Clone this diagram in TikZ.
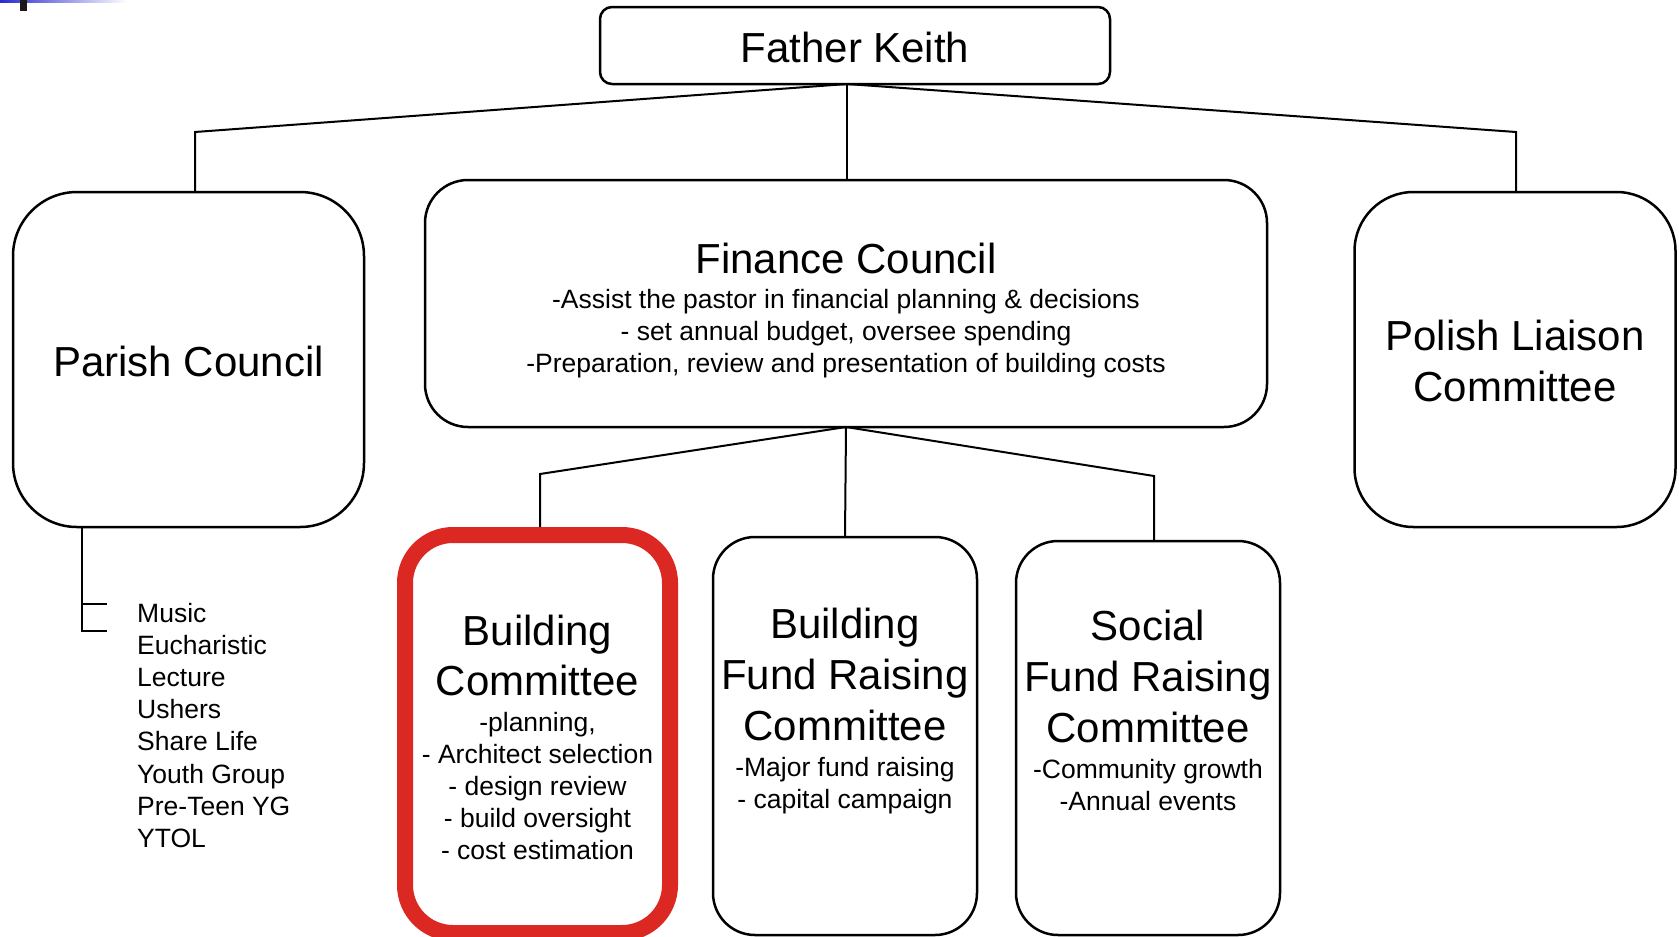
\documentclass[tikz,border=0pt]{standalone}
\usepackage{fontspec}
\setmainfont{Liberation Sans}
\definecolor{hired}{HTML}{DC2823}
\definecolor{topblue}{HTML}{2A2AD0}
\begin{document}
\begin{tikzpicture}[x=1pt,y=-1pt,
  box/.style={draw=black, line width=2.5pt, inner sep=0pt, outer sep=0pt},
  big/.style={font=\fontsize{42}{50}\selectfont, anchor=base, inner sep=0pt},
  small/.style={font=\fontsize{26.5}{32}\selectfont, anchor=base, inner sep=0pt},
  conn/.style={draw=black, line width=2pt, line join=miter}
]
\useasboundingbox (0,0) rectangle (1679,937);
% top-left decoration
\shade[left color=topblue, right color=white] (0,0) rectangle (127,2);
\fill[black!90] (20,0) rectangle (27,11);

% boxes
\node[box, rounded corners=12pt, minimum width=510pt, minimum height=77pt] (fk) at (855,45.5) {};
\node[box, rounded corners=64pt, minimum width=351pt, minimum height=335pt] (pc) at (188.5,359.5) {};
\node[box, rounded corners=43pt, minimum width=842pt, minimum height=247pt] (fc) at (846,303.5) {};
\node[box, rounded corners=59pt, minimum width=321pt, minimum height=335pt] (pl) at (1515,359.5) {};
\node[box, draw=hired, line width=16pt, outer sep=8pt, rounded corners=48pt, minimum width=265pt, minimum height=398pt] (bc) at (537.5,734) {};
\node[box, rounded corners=42pt, minimum width=264pt, minimum height=398pt] (bf) at (845,736) {};
\node[box, rounded corners=42pt, minimum width=264pt, minimum height=394pt] (sf) at (1148,738) {};

% connectors
\coordinate (fkhub) at (847,84);
\coordinate (pcbend) at (195,132);
\coordinate (plbend) at (1516,132);
\draw[conn] (pc.north -| pcbend) -- (pcbend) -- (fkhub) -- (plbend) -- (pl.north -| plbend);
\draw[conn] (fkhub) -- (fkhub |- fc.north);
\coordinate (bcbend) at (540,474);
\coordinate (sfbend) at (1154,476);
\draw[conn] (bc.north -| bcbend) -- (bcbend) -- (fc.south) -- (sfbend) -- (sf.north -| sfbend);
\draw[conn] (fc.south) -- (bf.north);
\coordinate (pcsub) at (82,631);
\coordinate (pctick) at (82,604);
\draw[conn] (pc.south -| pcsub) -- (pcsub) -- ++(25,0);
\draw[conn] (pctick) -- ++(25,0);

% texts
\node[big] (fkt) at (855,62) {Father Keith};
\node[big] (pct) at (188.5,376) {Parish Council};
\node[big] (fct) at (846,273) {Finance Council};
\node[small] (fc1) at (846,308.5) {-Assist the pastor in financial planning \& decisions};
\node[small] (fc2) at (846,340.5) {- set annual budget, oversee spending};
\node[small] (fc3) at (846,372.5) {-Preparation, review and presentation of building costs};
\node[big] (pl1) at (1515,350) {Polish Liaison};
\node[big] (pl2) at (1515,401.5) {Committee};

\node[big] (bc1) at (537.5,645) {Building};
\node[big] (bc2) at (537.5,695) {Committee};
\node[small] (bc3) at (537.5,731) {-planning,};
\node[small] (bc4) at (537.5,763) {- Architect selection};
\node[small] (bc5) at (537.5,795) {- design review};
\node[small] (bc6) at (537.5,827) {- build oversight};
\node[small] (bc7) at (537.5,859) {- cost estimation};

\node[big] (bf1) at (845,638) {Building};
\node[big] (bf2) at (845,689) {Fund Raising};
\node[big] (bf3) at (845,740) {Committee};
\node[small] (bf4) at (845,776) {-Major fund raising};
\node[small] (bf5) at (845,808) {- capital campaign};

\node[big] (sf1) at (1148,640) {Social};
\node[big] (sf2) at (1148,691) {Fund Raising};
\node[big] (sf3) at (1148,742) {Committee};
\node[small] (sf4) at (1148,778) {-Community growth};
\node[small] (sf5) at (1148,810) {-Annual events};

\foreach \t [count=\i from 0] in {Music,Eucharistic,Lecture,Ushers,Share Life,Youth Group,Pre-Teen YG,YTOL}
  \node[small, anchor=base west] (li\i) at (137,622.5+32.1*\i) {\t};
\end{tikzpicture}
\end{document}
